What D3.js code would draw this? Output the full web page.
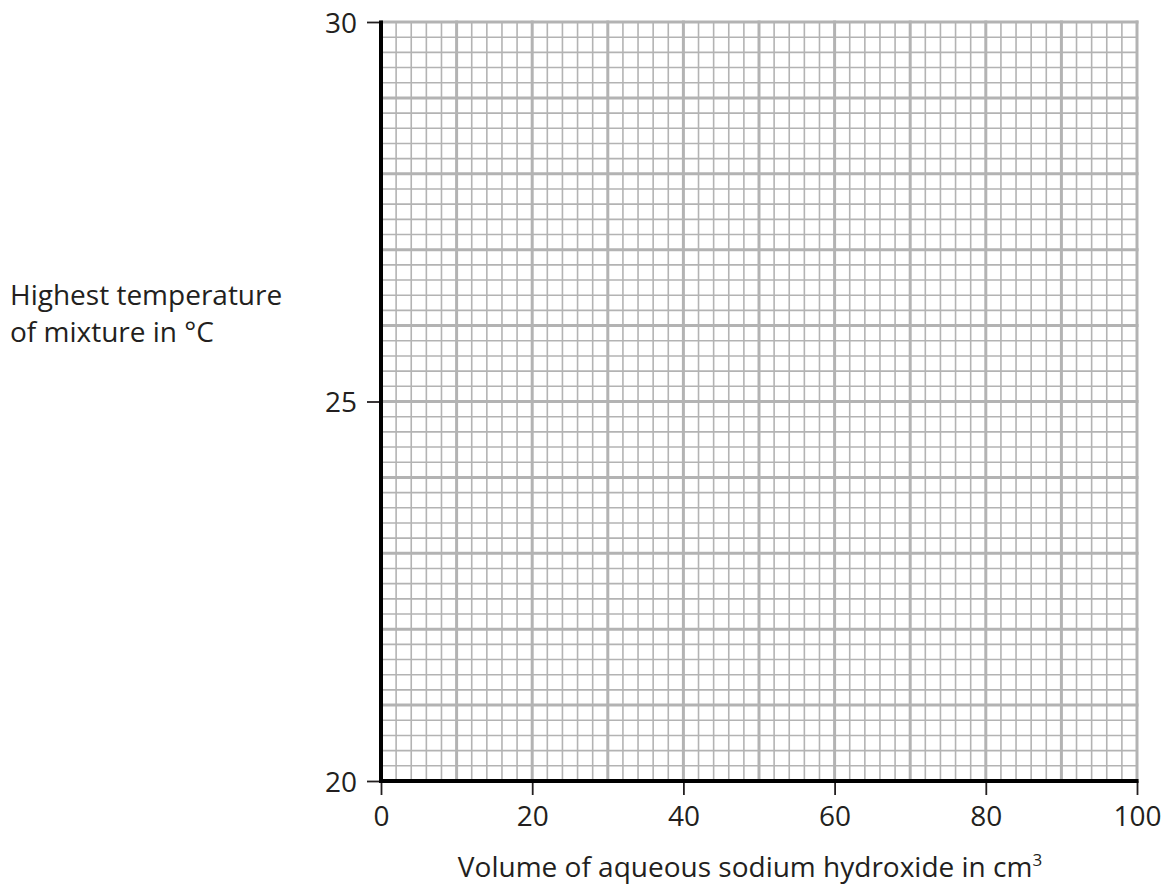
<!DOCTYPE html>
<html>
<head>
<meta charset="utf-8">
<script src="https://cdn.jsdelivr.net/npm/d3@7"></script>
<style>
  body { margin: 0; background: #fff; }
  text { font-family: "Open Sans", "Noto Sans", sans-serif; fill: #231f20; }
</style>
</head>
<body>
<svg id="chart" width="1163" height="885"></svg>
<script>
// axis ranges and tick labels
const X_DOMAIN = [0, 100];
const Y_DOMAIN = [20, 30];
const X_TICKS = [0, 20, 40, 60, 80, 100];
const Y_TICKS = [20, 25, 30];
// graph paper spacing (units)
const X_MINOR = 2, X_MAJOR = 10;
const Y_MINOR = 0.2, Y_MAJOR = 1;

const Y_LABEL = ["Highest temperature", "of mixture in °C"];
const X_LABEL = "Volume of aqueous sodium hydroxide in cm";

const plotLeft = 381, plotRight = 1137, plotTop = 22, plotBottom = 781;

const svg = d3.select("#chart");

const x = d3.scaleLinear().domain(X_DOMAIN).range([plotLeft, plotRight]);
const y = d3.scaleLinear().domain(Y_DOMAIN).range([plotBottom, plotTop]);

const GRID = "#b3b3b3";

function isMajor(v, step){
	let r = Math.abs(v / step - Math.round(v / step));
	return r < 1e-6;
}

let xs = d3.range(X_DOMAIN[0], X_DOMAIN[1] + 1e-6, X_MINOR);
let ys = d3.range(0, Math.round((Y_DOMAIN[1] - Y_DOMAIN[0]) / Y_MINOR) + 1).map(i => Y_DOMAIN[0] + i * Y_MINOR);

let grid = svg.append("g");

// minor first, major on top
grid.selectAll(".vminor")
	.data(xs.filter(d => !isMajor(d, X_MAJOR)))
	.enter().append("line")
	.attr("x1", d => x(d)).attr("x2", d => x(d))
	.attr("y1", plotTop).attr("y2", plotBottom)
	.attr("stroke", GRID).attr("stroke-width", 1.6);

grid.selectAll(".hminor")
	.data(ys.filter(d => !isMajor(d - Y_DOMAIN[0], Y_MAJOR)))
	.enter().append("line")
	.attr("x1", plotLeft).attr("x2", plotRight)
	.attr("y1", d => y(d)).attr("y2", d => y(d))
	.attr("stroke", GRID).attr("stroke-width", 1.6);

grid.selectAll(".vmajor")
	.data(xs.filter(d => isMajor(d, X_MAJOR)))
	.enter().append("line")
	.attr("x1", d => x(d)).attr("x2", d => x(d))
	.attr("y1", plotTop - 1.5).attr("y2", plotBottom)
	.attr("stroke", GRID).attr("stroke-width", 3);

grid.selectAll(".hmajor")
	.data(ys.filter(d => isMajor(d - Y_DOMAIN[0], Y_MAJOR)))
	.enter().append("line")
	.attr("x1", plotLeft).attr("x2", plotRight + 1.5)
	.attr("y1", d => y(d)).attr("y2", d => y(d))
	.attr("stroke", GRID).attr("stroke-width", 3);

// axes
let yAxis = d3.axisLeft(y).tickValues(Y_TICKS).tickSize(14).tickPadding(10);
let xAxis = d3.axisBottom(x).tickValues(X_TICKS).tickSize(14).tickPadding(11);

let gy = svg.append("g").attr("transform", `translate(${plotLeft},0)`).call(yAxis);
let gx = svg.append("g").attr("transform", `translate(0,${plotBottom})`).call(xAxis);

[gx, gy].forEach(g => {
	g.select(".domain").remove();
	g.selectAll(".tick line").attr("stroke", "#231f20").attr("stroke-width", 1.8);
	g.selectAll(".tick text").attr("font-size", 28).attr("fill", "#231f20")
		.style("font-family", '"Open Sans", "Noto Sans", sans-serif');
});
gy.selectAll(".tick text").attr("dy", "0.36em");

// heavy black axis lines
svg.append("line")
	.attr("x1", plotLeft).attr("x2", plotLeft)
	.attr("y1", plotTop - 1.5).attr("y2", plotBottom + 2)
	.attr("stroke", "#000").attr("stroke-width", 4);
svg.append("line")
	.attr("x1", plotLeft - 2).attr("x2", plotRight + 1.5)
	.attr("y1", plotBottom).attr("y2", plotBottom)
	.attr("stroke", "#000").attr("stroke-width", 4);

// labels
let yl = svg.append("text").attr("x", 10).attr("y", 305).attr("font-size", 28);
yl.selectAll("tspan").data(Y_LABEL).enter().append("tspan")
	.attr("x", 10).attr("dy", (d, i) => i ? 37 : 0).text(d => d);

let xl = svg.append("text")
	.attr("x", 750).attr("y", 877)
	.attr("text-anchor", "middle").attr("font-size", 28);
xl.append("tspan").text(X_LABEL);
xl.append("tspan").attr("dy", -11).attr("font-size", 17).text("3");
</script>
</body>
</html>
